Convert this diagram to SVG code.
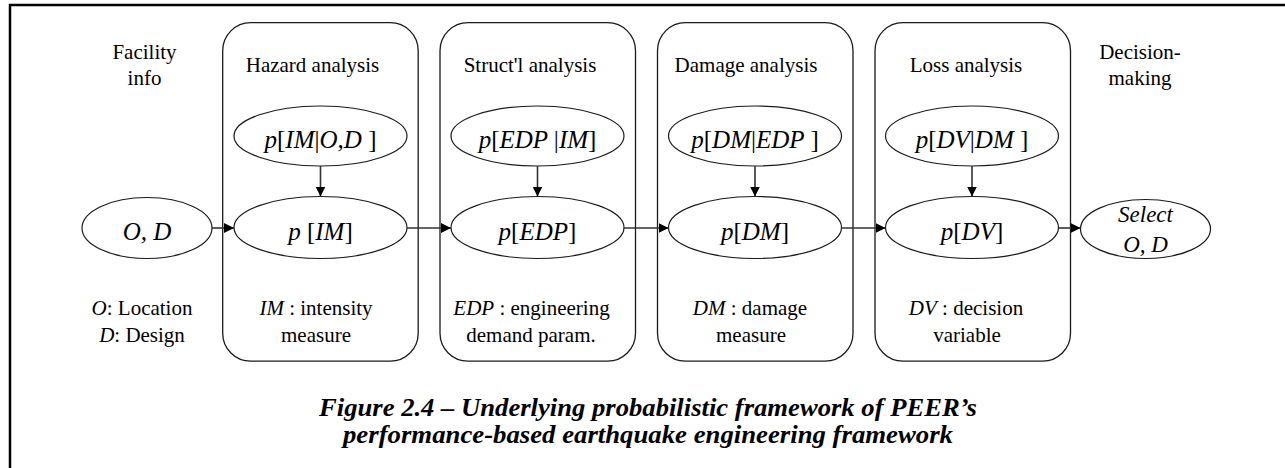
<svg xmlns="http://www.w3.org/2000/svg" width="1285" height="468" viewBox="0 0 1285 468">
<style>
text{font-family:"Liberation Serif","Times New Roman",Tinos,"DejaVu Serif",serif;fill:#000;}
.lbl{font-size:21px;text-anchor:middle;}
.ttl{font-size:21px;text-anchor:middle;}
.math{font-size:25px;font-style:italic;text-anchor:middle;}
.up{font-style:normal;}
.it{font-style:italic;}
.cap{font-size:25px;font-weight:bold;font-style:italic;text-anchor:middle;}
.box{fill:none;stroke:#1a1a1a;stroke-width:1.3;}
.ell{fill:#fff;stroke:#1a1a1a;stroke-width:1.2;}
.con{stroke:#333;stroke-width:1.6;fill:none;marker-end:url(#ah);}
.frame{stroke:#000;stroke-width:2.5;fill:none;}
</style>
<defs>
<marker id="ah" markerUnits="userSpaceOnUse" markerWidth="12" markerHeight="12" refX="10" refY="5" orient="auto">
<path d="M0,0 L10,5 L0,10 Z" fill="#000"/>
</marker>
</defs>
<rect width="1285" height="468" fill="#fff"/>
<path class="frame" d="M10,468 L10,5 L1285,5"/>

<g id="facility-info">
<text class="lbl" x="144.5" y="58.5">Facility</text>
<text class="lbl" x="144.5" y="85">info</text>
<ellipse class="ell" cx="147" cy="228" rx="65" ry="30.5"/>
<text class="math" x="147" y="240">O, D</text>
<text class="lbl" x="142" y="315"><tspan class="it">O</tspan>: Location</text>
<text class="lbl" x="142" y="342"><tspan class="it">D</tspan>: Design</text>
</g>

<g id="hazard">
<rect class="box" x="222.7" y="22.7" width="195.5" height="338.5" rx="28"/>
<text class="ttl" x="312.5" y="72">Hazard analysis</text>
<ellipse class="ell" cx="320.5" cy="136" rx="86.5" ry="30"/>
<text class="math" x="320.5" y="148">p<tspan class="up">[</tspan>IM<tspan class="up">|</tspan>O,D <tspan class="up">]</tspan></text>
<ellipse class="ell" cx="320.5" cy="227.5" rx="86.5" ry="31"/>
<text class="math" x="320.5" y="240">p <tspan class="up">[</tspan>IM<tspan class="up">]</tspan></text>
<text class="lbl" x="316" y="315"><tspan class="it">IM</tspan> : intensity</text>
<text class="lbl" x="316" y="342">measure</text>
</g>

<g id="structural">
<rect class="box" x="440" y="22.7" width="195.5" height="338.5" rx="28"/>
<text class="ttl" x="530" y="72">Struct'l analysis</text>
<ellipse class="ell" cx="537.5" cy="136" rx="86.5" ry="30"/>
<text class="math" x="537.5" y="148">p<tspan class="up">[</tspan>EDP <tspan class="up">|</tspan>IM<tspan class="up">]</tspan></text>
<ellipse class="ell" cx="537.5" cy="227.5" rx="86.5" ry="31"/>
<text class="math" x="537.5" y="240">p<tspan class="up">[</tspan>EDP<tspan class="up">]</tspan></text>
<text class="lbl" x="531.5" y="315"><tspan class="it">EDP</tspan> : engineering</text>
<text class="lbl" x="531" y="342">demand param.</text>
</g>

<g id="damage">
<rect class="box" x="657.5" y="22.7" width="195.5" height="338.5" rx="28"/>
<text class="ttl" x="746" y="72">Damage analysis</text>
<ellipse class="ell" cx="755" cy="136" rx="86.5" ry="30"/>
<text class="math" x="755" y="148">p<tspan class="up">[</tspan>DM<tspan class="up">|</tspan>EDP <tspan class="up">]</tspan></text>
<ellipse class="ell" cx="755" cy="227.5" rx="86.5" ry="31"/>
<text class="math" x="755" y="240">p<tspan class="up">[</tspan>DM<tspan class="up">]</tspan></text>
<text class="lbl" x="750" y="315"><tspan class="it">DM</tspan> : damage</text>
<text class="lbl" x="751" y="342">measure</text>
</g>

<g id="loss">
<rect class="box" x="875" y="22.7" width="195.5" height="338.5" rx="28"/>
<text class="ttl" x="966" y="72">Loss analysis</text>
<ellipse class="ell" cx="972" cy="136" rx="86.5" ry="30"/>
<text class="math" x="972" y="148">p<tspan class="up">[</tspan>DV<tspan class="up">|</tspan>DM <tspan class="up">]</tspan></text>
<ellipse class="ell" cx="972" cy="227.5" rx="86.5" ry="31"/>
<text class="math" x="972" y="240">p<tspan class="up">[</tspan>DV<tspan class="up">]</tspan></text>
<text class="lbl" x="966" y="315"><tspan class="it">DV</tspan> : decision</text>
<text class="lbl" x="967" y="342">variable</text>
</g>

<g id="decision-making">
<text class="lbl" x="1140" y="58.5">Decision-</text>
<text class="lbl" x="1140" y="85">making</text>
<ellipse class="ell" cx="1145.5" cy="229" rx="65" ry="29.5"/>
<text class="math" x="1145.5" y="221.5" style="font-size:23px">Select</text>
<text class="math" x="1145.5" y="251.5" style="font-size:23px">O, D</text>
</g>

<g id="connectors">
<line class="con" x1="320.5" y1="166" x2="320.5" y2="196.5"/>
<line class="con" x1="537.5" y1="166" x2="537.5" y2="196.5"/>
<line class="con" x1="755" y1="166" x2="755" y2="196.5"/>
<line class="con" x1="972" y1="166" x2="972" y2="196.5"/>
<line class="con" x1="212" y1="228" x2="234" y2="228"/>
<line class="con" x1="407" y1="228" x2="451" y2="228"/>
<line class="con" x1="624" y1="228" x2="668.5" y2="228"/>
<line class="con" x1="841.5" y1="228" x2="885.5" y2="228"/>
<line class="con" x1="1058.5" y1="228" x2="1080.5" y2="228"/>
</g>

<g id="caption">
<text class="cap" x="648" y="416" textLength="658" lengthAdjust="spacingAndGlyphs">Figure 2.4 – Underlying probabilistic framework of PEER’s</text>
<text class="cap" x="648" y="443" textLength="610" lengthAdjust="spacingAndGlyphs">performance-based earthquake engineering framework</text>
</g>
</svg>
